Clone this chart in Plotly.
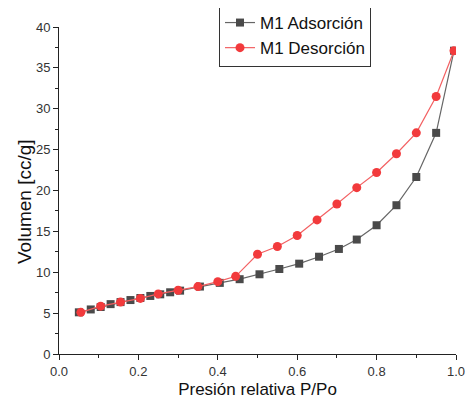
import plotly.graph_objects as go

ads_x = [0.05, 0.08, 0.105, 0.13, 0.155, 0.18, 0.205, 0.23, 0.255, 0.28, 0.305, 0.355, 0.405,
         0.455, 0.505, 0.555, 0.605, 0.655, 0.705, 0.75, 0.80, 0.85, 0.90, 0.95, 0.995]
ads_y = [5.1, 5.45, 5.75, 6.1, 6.35, 6.6, 6.85, 7.1, 7.3, 7.55, 7.75, 8.25, 8.7,
         9.15, 9.75, 10.4, 11.05, 11.9, 12.85, 14.0, 15.75, 18.2, 21.65, 27.05, 37.1]

des_x = [0.995, 0.95, 0.90, 0.85, 0.80, 0.75, 0.70, 0.65, 0.60, 0.55, 0.50, 0.445, 0.40,
         0.35, 0.30, 0.25, 0.205, 0.155, 0.105, 0.055]
des_y = [37.1, 31.5, 27.05, 24.5, 22.2, 20.35, 18.35, 16.4, 14.5, 13.15, 12.2, 9.5, 8.85,
         8.25, 7.8, 7.35, 6.8, 6.35, 5.85, 5.1]

x_title = "Presión relativa P/Po"
y_title = "Volumen [cc/g]"

FONT = "Liberation Sans, Arial, sans-serif"
OFF = 8  # default page body margin in the browser

W, H = 473 - OFF, 407 - 2 * OFF
ML, MR, MT = 59 - OFF, 17, 27 - OFF
MB = H - (354 - OFF)
PW, PH = W - ML - MR, H - MT - MB

fig = go.Figure()
fig.add_trace(go.Scatter(
    x=ads_x, y=ads_y, mode="lines+markers", name="M1 Adsorción",
    line=dict(color="#666666", width=1.2),
    marker=dict(symbol="square", size=8, color="#4a4a4a"),
))
fig.add_trace(go.Scatter(
    x=des_x, y=des_y, mode="lines+markers", name="M1 Desorción",
    line=dict(color="#f36062", width=1.2),
    marker=dict(symbol="circle", size=9, color="#f23a3c"),
))

axis_font = dict(family=FONT, size=13, color="#333333")
fig.update_layout(
    width=W, height=H,
    margin=dict(l=ML, r=MR, t=MT, b=MB, autoexpand=False),
    plot_bgcolor="white", paper_bgcolor="white",
    font=dict(family=FONT, size=12, color="#222222"),
    legend=dict(
        x=(219 - 59) / PW, y=1 + (27 - 4) / PH, xanchor="left", yanchor="top",
        bordercolor="#333333", borderwidth=1, bgcolor="white",
        font=dict(family=FONT, size=17, color="#111111"),
        tracegroupgap=0, itemwidth=30,
    ),
    xaxis=dict(
        range=[0, 1], showgrid=False, zeroline=False,
        showline=True, linecolor="#222222", linewidth=1,
        ticks="outside", ticklen=5, tickcolor="#222222", dtick=0.2, tick0=0,
        tickformat=".1f", tickfont=axis_font,
        minor=dict(ticks="outside", ticklen=3, dtick=0.1, tickcolor="#222222"),
        title=dict(text=x_title, font=dict(size=17, color="#111111"), standoff=8),
    ),
    yaxis=dict(
        range=[0, 40], showgrid=False, zeroline=False,
        showline=True, linecolor="#222222", linewidth=1,
        ticks="outside", ticklen=5, tickcolor="#222222", dtick=5, tick0=0,
        tickfont=axis_font,
        minor=dict(ticks="outside", ticklen=3, dtick=2.5, tickcolor="#222222"),
    ),
    annotations=[dict(
        text=y_title, textangle=-90, showarrow=False,
        xref="paper", yref="paper", x=-(59 - 24) / PW, y=(354 - 202) / (354 - 27),
        xanchor="center", yanchor="middle",
        font=dict(family=FONT, size=19, color="#111111"),
    )],
)

fig.write_html("out.html", config={"displayModeBar": False})
